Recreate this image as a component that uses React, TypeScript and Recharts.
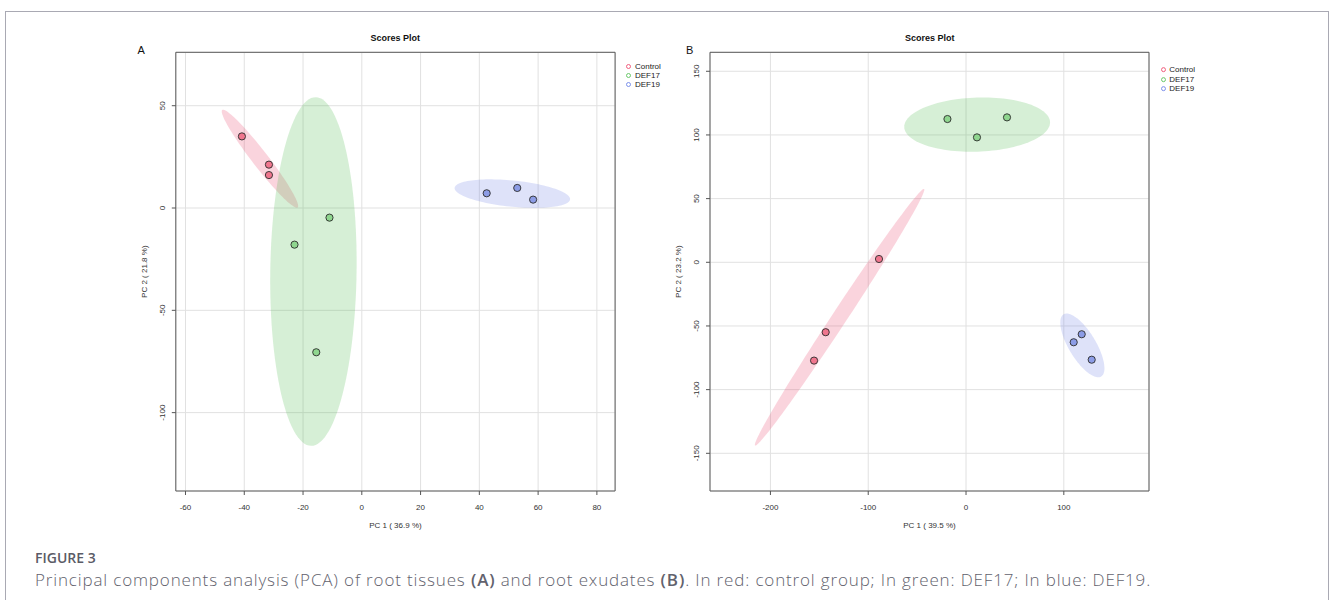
import React from 'react';
import { ScatterChart, Scatter, XAxis, YAxis, CartesianGrid, ReferenceArea, Legend } from 'recharts';

// ---------- data ----------
const groups = ['Control', 'DEF17', 'DEF19'];
const pointFill = ['#f0768e', '#8fd68f', '#8c9ce6'];
const legendStroke = ['#ee4f72', '#5cc25c', '#6f86e8'];
const ellipseFill = ['#e8436b', '#4cb94c', '#6f82e6'];

// Panel A: root tissues
const aControlPC1 = [-40.8, -31.6, -31.6];
const aControlPC2 = [35.0, 21.2, 16.1];
const aDef17PC1 = [-11.0, -22.9, -15.5];
const aDef17PC2 = [-4.7, -17.9, -70.5];
const aDef19PC1 = [42.5, 52.9, 58.3];
const aDef19PC2 = [7.2, 9.8, 4.1];
const aXTicks = [-60, -40, -20, 0, 20, 40, 60, 80];
const aYTicks = [-100, -50, 0, 50];
const aXDomain = [-63.3, 86.2];
const aYDomain = [-138.3, 76.1];
const aXLabel = 'PC 1 ( 36.9 %)';
const aYLabel = 'PC 2 ( 21.8 %)';

// Panel B: root exudates
const bControlPC1 = [-89.0, -143.5, -155.4];
const bControlPC2 = [2.6, -54.9, -77.2];
const bDef17PC1 = [-19.0, 11.2, 41.9];
const bDef17PC2 = [112.5, 98.1, 113.8];
const bDef19PC1 = [110.1, 118.3, 128.5];
const bDef19PC2 = [-62.8, -56.5, -76.5];
const bXTicks = [-200, -100, 0, 100];
const bYTicks = [-150, -100, -50, 0, 50, 100, 150];
const bXDomain = [-261.8, 187.1];
const bYDomain = [-179.6, 164.9];
const bXLabel = 'PC 1 ( 39.5 %)';
const bYLabel = 'PC 2 ( 23.2 %)';

const title = 'Scores Plot';
const captionHead = 'FIGURE 3';

// ---------- helpers ----------
const FONT = '"Liberation Sans", Arial, Helvetica, sans-serif';
const CHI95 = Math.sqrt(-2 * Math.log(0.05)); // sqrt(qchisq(0.95, 2))

const toPoints = (xs: number[], ys: number[]) => xs.map((x, i) => ({ x, y: ys[i] }));

// 95% confidence ellipse derived from the group's scores
function confidenceEllipse(xs: number[], ys: number[], steps = 120) {
  const n = xs.length;
  const mx = xs.reduce((s, v) => s + v, 0) / n;
  const my = ys.reduce((s, v) => s + v, 0) / n;
  let sxx = 0, syy = 0, sxy = 0;
  for (let i = 0; i < n; i++) {
    sxx += (xs[i] - mx) ** 2;
    syy += (ys[i] - my) ** 2;
    sxy += (xs[i] - mx) * (ys[i] - my);
  }
  sxx /= n - 1; syy /= n - 1; sxy /= n - 1;
  const l11 = Math.sqrt(sxx);
  const l21 = sxy / l11;
  const l22 = Math.sqrt(Math.max(syy - l21 * l21, 0));
  const pts: { x: number; y: number }[] = [];
  for (let i = 0; i < steps; i++) {
    const t = (2 * Math.PI * i) / steps;
    const u = Math.cos(t), v = Math.sin(t);
    pts.push({ x: mx + CHI95 * l11 * u, y: my + CHI95 * (l21 * u + l22 * v) });
  }
  return pts;
}

const EmptyShape = () => <g />;

const makeDot = (fill: string) => (props: any) => (
  <circle cx={props.cx} cy={props.cy} r={3.6} fill={fill} stroke="#2b2b2b" strokeWidth={0.9} />
);

const YTick = (props: any) => {
  const { x, y, payload } = props;
  const cx = x - 9.4;
  return (
    <text x={cx} y={y} dy="0.35em" textAnchor="middle" transform={`rotate(-90, ${cx}, ${y})`}
      fontSize={8} fill="#333" fontFamily={FONT}>
      {payload.value}
    </text>
  );
};

const makeLegend = (rowH: number) => () => (
  <div style={{ fontFamily: FONT, fontSize: 8, color: '#222', lineHeight: `${rowH}px` }}>
    {groups.map((g, i) => (
      <div key={g} style={{ display: 'flex', alignItems: 'center', height: rowH }}>
        <svg width={5} height={rowH} style={{ display: 'block' }}>
          <circle cx={2.5} cy={rowH / 2} r={2} fill="none" stroke={legendStroke[i]} strokeWidth={0.9} />
        </svg>
        <span style={{ marginLeft: 3.5, whiteSpace: 'nowrap' }}>{g}</span>
      </div>
    ))}
  </div>
);

type PanelProps = {
  left: number; width: number; height: number;
  margin: { top: number; right: number; bottom: number; left: number };
  yAxisWidth: number;
  xs: number[][]; ys: number[][];
  xTicks: number[]; yTicks: number[];
  xDomain: number[]; yDomain: number[];
  xLabel: string; yLabel: string;
  legendLeft: number; legendTop: number; legendRow: number;
};

const Panel = (p: PanelProps) => (
  <div style={{ position: 'absolute', left: p.left, top: 0 }}>
    <ScatterChart width={p.width} height={p.height} margin={p.margin} style={{ fontFamily: FONT }}>
      <CartesianGrid stroke="#e1e1e1" strokeWidth={1} />
      <XAxis type="number" dataKey="x" domain={p.xDomain} ticks={p.xTicks} interval={0}
        allowDataOverflow axisLine={false} tickSize={4} tickMargin={9} height={42}
        tickLine={{ stroke: '#555' }} tick={{ fontSize: 8, fill: '#333', fontFamily: FONT }}
        label={{ value: p.xLabel, position: 'insideBottom', offset: 5, fontSize: 8, fill: '#333', fontFamily: FONT }} />
      <YAxis type="number" dataKey="y" domain={p.yDomain} ticks={p.yTicks} interval={0}
        allowDataOverflow axisLine={false} tickSize={4} tickMargin={0} width={p.yAxisWidth}
        tickLine={{ stroke: '#555' }} tick={<YTick />}
        label={{ value: p.yLabel, angle: -90, position: 'center', fontSize: 8, fill: '#333', fontFamily: FONT }} />
      {p.xs.map((xs, i) => (
        <Scatter key={`e${i}`} name={`${groups[i]} ellipse`} data={confidenceEllipse(xs, p.ys[i])}
          shape={EmptyShape} line={{ fill: ellipseFill[i], fillOpacity: 0.23, stroke: 'none' }}
          lineJointType="linearClosed" legendType="none" isAnimationActive={false} />
      ))}
      {p.xs.map((xs, i) => (
        <Scatter key={`p${i}`} name={groups[i]} data={toPoints(xs, p.ys[i])}
          fill={pointFill[i]} shape={makeDot(pointFill[i])} isAnimationActive={false} />
      ))}
      <ReferenceArea x1={p.xDomain[0]} x2={p.xDomain[1]} y1={p.yDomain[0]} y2={p.yDomain[1]}
        fill="none" stroke="#5a5a5a" strokeWidth={1} ifOverflow="visible" />
      <Legend layout="vertical" align="center" verticalAlign="middle" content={makeLegend(p.legendRow)}
        wrapperStyle={{ left: p.legendLeft, top: p.legendTop, width: 'auto', height: 'auto' }} />
    </ScatterChart>
  </div>
);

const Abs = ({ style, children }: any) => (
  <div style={{ position: 'absolute', whiteSpace: 'nowrap', ...style }}>{children}</div>
);

export default function App() {
  return (
    <div style={{ position: 'absolute', left: 0, top: 0, width: 1330, height: 600, overflow: 'hidden', background: '#fff' }}>
      <div style={{ position: 'absolute', left: 5, top: 11, width: 1324, height: 589, boxSizing: 'border-box',
        borderTop: '1px solid #a9a9b3', borderLeft: '1px solid #a9a9b3', borderRight: '1px solid #a9a9b3' }} />

      <Panel left={112.9} width={530} height={540}
        margin={{ top: 52.3, right: 27.9, bottom: 7, left: 0 }} yAxisWidth={62.8}
        xs={[aControlPC1, aDef17PC1, aDef19PC1]} ys={[aControlPC2, aDef17PC2, aDef19PC2]}
        xTicks={aXTicks} yTicks={aYTicks} xDomain={aXDomain} yDomain={aYDomain}
        xLabel={aXLabel} yLabel={aYLabel} legendLeft={513.6} legendTop={61.5} legendRow={9} />

      <Panel left={646.3} width={530} height={540}
        margin={{ top: 52.3, right: 27, bottom: 7, left: 0 }} yAxisWidth={64}
        xs={[bControlPC1, bDef17PC1, bDef19PC1]} ys={[bControlPC2, bDef17PC2, bDef19PC2]}
        xTicks={bXTicks} yTicks={bYTicks} xDomain={bXDomain} yDomain={bYDomain}
        xLabel={bXLabel} yLabel={bYLabel} legendLeft={514.5} legendTop={65.4} legendRow={9.3} />

      <Abs style={{ left: 295.3, width: 200, top: 33.3, textAlign: 'center', fontFamily: FONT, fontSize: 9, fontWeight: 700, lineHeight: '10px', color: '#111' }}>{title}</Abs>
      <Abs style={{ left: 829.8, width: 200, top: 33.3, textAlign: 'center', fontFamily: FONT, fontSize: 9, fontWeight: 700, lineHeight: '10px', color: '#111' }}>{title}</Abs>
      <Abs style={{ left: 137.5, top: 44, fontFamily: FONT, fontSize: 11, lineHeight: '12px', color: '#111' }}>A</Abs>
      <Abs style={{ left: 686, top: 44, fontFamily: FONT, fontSize: 11, lineHeight: '12px', color: '#111' }}>B</Abs>

      <Abs style={{ left: 35, top: 549, fontFamily: '"Open Sans", sans-serif', fontSize: 14, fontWeight: 600, lineHeight: '18px', color: '#5b5b66' }}>{captionHead}</Abs>
      <Abs style={{ left: 35, top: 569, fontFamily: '"Open Sans", sans-serif', fontSize: 17, fontWeight: 300, letterSpacing: 0.85, lineHeight: '22px', color: '#62626d' }}>
        Principal components analysis (PCA) of root tissues <b style={{ fontWeight: 600 }}>(A)</b> and root exudates <b style={{ fontWeight: 600 }}>(B)</b>. In red: control group; In green: DEF17; In blue: DEF19.
      </Abs>
    </div>
  );
}
